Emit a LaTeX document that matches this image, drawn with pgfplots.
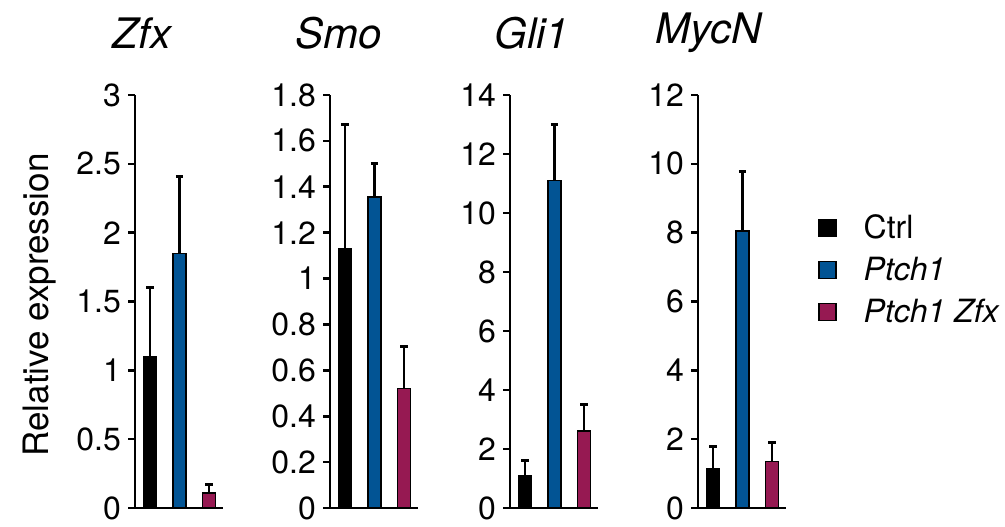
\documentclass[border=0pt]{standalone}
\usepackage{fontspec}
\setmainfont{TeX Gyre Heros}
\usepackage{pgfplots}
\pgfplotsset{compat=1.18}

\definecolor{ctrl}{RGB}{0,0,0}
\definecolor{ptch}{RGB}{2,84,148}
\definecolor{ptzfx}{RGB}{150,25,82}

\pgfplotsset{
  panel/.style={
    scale only axis, width=44pt, height=206.5pt,
    anchor=south west, clip=false,
    xmin=0.49, xmax=3.475, ymin=0,
    axis x line=bottom, axis y line=left,
    axis line style={-, line width=1.3pt},
    xtick=\empty,
    tick align=outside, major tick length=3.5pt,
    every tick/.style={black, line width=1.3pt},
    ticklabel style={font=\fontsize{16}{16}\selectfont},
    /pgf/number format/assume math mode=true,
  },
  mybar/.style={
    ybar, bar width=6.5pt, bar shift=0pt,
    fill=#1, draw=black, line width=0.8pt,
    error bars/.cd, y dir=plus, y explicit,
    error bar style={line width=1.3pt, black},
    error mark=-,
    error mark options={rotate=90, line width=1.6pt, mark size=1.8pt, black},
    /pgfplots/.cd,
  },
  sq legend/.style={
    legend image code/.code={\draw[##1, line width=0.8pt] (0pt,-4.25pt) rectangle (8.5pt,4.25pt);}
  },
}

\begin{document}
\begin{tikzpicture}
\path (0,0) rectangle (502.5pt,259pt);

% Zfx
\begin{axis}[panel, at={(67.5pt,5pt)}, ymax=3, ytick={0,0.5,...,3}]
\addplot[mybar=ctrl]  coordinates {(1,1.10) +- (0,0.50)};
\addplot[mybar=ptch]  coordinates {(2,1.85) +- (0,0.56)};
\addplot[mybar=ptzfx] coordinates {(3,0.11) +- (0,0.06)};
\end{axis}

% Smo
\begin{axis}[panel, at={(165pt,5pt)}, ymax=1.8, ytick={0,0.2,0.4,0.6,0.8,1,1.2,1.4,1.6,1.8}]
\addplot[mybar=ctrl]  coordinates {(1,1.13) +- (0,0.54)};
\addplot[mybar=ptch]  coordinates {(2,1.355) +- (0,0.145)};
\addplot[mybar=ptzfx] coordinates {(3,0.52) +- (0,0.185)};
\end{axis}

% Gli1
\begin{axis}[panel, at={(255pt,5pt)}, ymax=14, ytick={0,2,...,14}]
\addplot[mybar=ctrl]  coordinates {(1,1.10) +- (0,0.50)};
\addplot[mybar=ptch]  coordinates {(2,11.1) +- (0,1.9)};
\addplot[mybar=ptzfx] coordinates {(3,2.6) +- (0,0.9)};
\end{axis}

% MycN
\begin{axis}[panel, at={(349pt,5pt)}, ymax=12, ytick={0,2,...,12},
  legend style={at={(axis description cs:1.36,0.576)}, anchor=west,
    draw=none, fill=none, inner sep=0pt, row sep=8.5pt, column sep=0pt,
    nodes={inner sep=0pt, text height=11.5pt, text depth=1pt},
    font=\fontsize{16}{16}\selectfont},
  legend cell align=left]
\addplot[mybar=ctrl, sq legend]  coordinates {(1,1.15) +- (0,0.63)};
\addlegendentry{\hspace{13.5pt}Ctrl}
\addplot[mybar=ptch, sq legend]  coordinates {(2,8.05) +- (0,1.73)};
\addlegendentry{\hspace{13.5pt}\itshape Ptch1}
\addplot[mybar=ptzfx, sq legend] coordinates {(3,1.35) +- (0,0.55)};
\addlegendentry{\hspace{13.5pt}\itshape Ptch1 Zfx}
\end{axis}

% titles
\begin{scope}[every node/.style={font=\fontsize{21}{21}\selectfont\itshape}]
\node at (71pt,242.5pt) {Zfx};
\node at (169.5pt,242.5pt) {Smo};
\node at (266pt,242.5pt) {Gli1};
\node at (354.5pt,242.5pt) {MycN};
\end{scope}

\node[rotate=90, font=\fontsize{17.5}{17.5}\selectfont] at (20pt,106.5pt) {Relative expression};
\end{tikzpicture}
\end{document}
